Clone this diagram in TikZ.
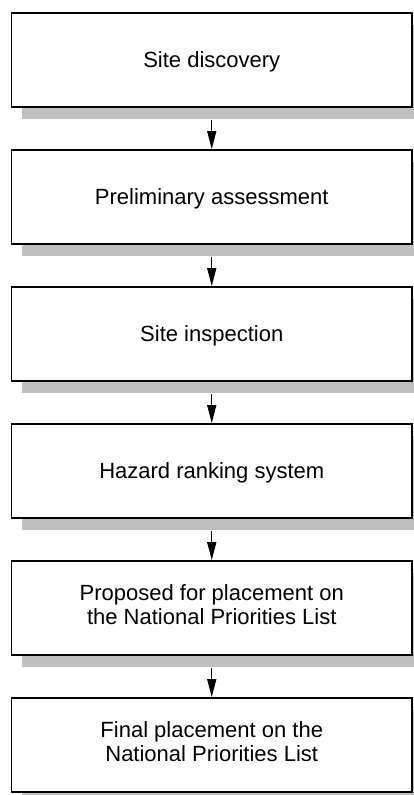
\documentclass[tikz,border=0pt]{standalone}
\usepackage{fontspec}
\setmainfont{Liberation Sans}
\usetikzlibrary{arrows.meta,shadows}
\definecolor{shadowgray}{HTML}{C0C0C0}
\tikzset{
  stepbox/.style={draw=black, line width=1.8pt, fill=white,
    minimum width=400.5pt, minimum height=94pt, inner sep=0pt,
    align=center, font=\fontsize{22}{24}\selectfont,
    drop shadow={shadow xshift=10.5pt, shadow yshift=-12pt, fill=shadowgray, opacity=1}},
  oneline/.style={text depth=0pt},
  twoline/.style={text depth=6pt},
  flowarrow/.style={line width=1.4pt, -{Triangle[length=18pt,width=9pt]}}
}
\begin{document}
\begin{tikzpicture}[x=1pt,y=-1pt]
\useasboundingbox (0,0) rectangle (414,795);
\node[stepbox,oneline] (s1) at (211.75,60) {Site discovery};
\node[stepbox,oneline] (s2) at (211.75,197) {Preliminary assessment};
\node[stepbox,oneline] (s3) at (211.75,334) {Site inspection};
\node[stepbox,oneline] (s4) at (211.75,471) {Hazard ranking system};
\node[stepbox,twoline] (s5) at (211.75,608) {Proposed for placement on\\the National Priorities List};
\node[stepbox,twoline] (s6) at (211.75,745) {Final placement on the\\National Priorities List};
\draw[flowarrow] ([yshift=-12pt]s1.south) -- (s2.north);
\draw[flowarrow] ([yshift=-12pt]s2.south) -- (s3.north);
\draw[flowarrow] ([yshift=-12pt]s3.south) -- (s4.north);
\draw[flowarrow] ([yshift=-12pt]s4.south) -- (s5.north);
\draw[flowarrow] ([yshift=-12pt]s5.south) -- (s6.north);
\end{tikzpicture}
\end{document}
